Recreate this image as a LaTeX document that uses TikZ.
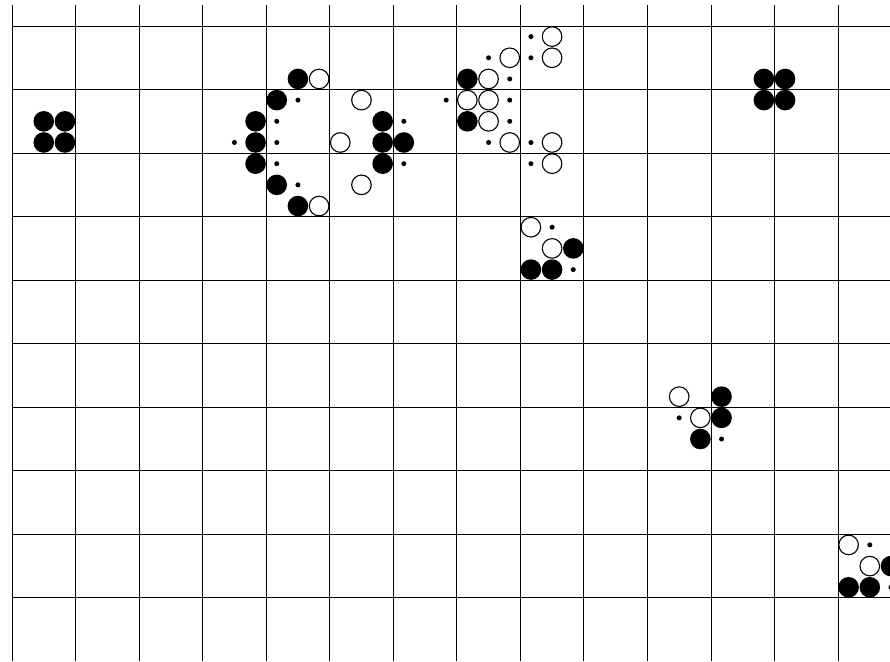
\documentclass[tikz,border=0pt]{standalone}
\begin{document}
\begin{tikzpicture}[x=1pt,y=-1pt,
  gridline/.style={line width=0.9pt, black},
  live/.style={circle, fill=black, inner sep=0pt, minimum size=20.6pt},
  born/.style={circle, draw=black, fill=white, line width=1.1pt, inner sep=0pt, minimum size=19.6pt},
  dying/.style={circle, fill=black, inner sep=0pt, minimum size=5pt}]
\useasboundingbox (0,0) rectangle (890,661);
\begin{scope}
\clip (12,5) rectangle (890,661);
\foreach \k in {0,...,14} \draw[gridline] ({12+3*\k*21.18},5) -- ({12+3*\k*21.18},661);
\foreach \k in {0,...,9} \draw[gridline] (12,{26+3*\k*21.18}) -- (890,{26+3*\k*21.18});
\begin{scope}[shift={(12,26)}, x=21.18pt, y=-21.18pt]
\foreach \c/\r [count=\i] in {1/4,2/4,1/5,2/5,13/2,12/3,11/4,11/5,11/6,12/7,13/8,17/4,17/5,18/5,17/6,21/2,21/4,35/2,36/2,35/3,36/3,26/10,24/11,25/11,33/17,33/18,32/19,41/25,39/26,40/26}
  \node[live] (L\i) at (\c+0.5,\r+0.5) {};
\foreach \c/\r [count=\i] in {14/2,14/8,16/3,15/5,16/7,22/2,23/1,25/0,25/1,21/3,22/3,22/4,23/5,25/5,25/6,24/9,25/10,31/17,32/18,39/24,40/25}
  \node[born] (B\i) at (\c+0.5,\r+0.5) {};
\foreach \c/\r [count=\i] in {13/3,12/4,10/5,12/5,12/6,13/7,18/4,18/6,23/2,22/1,24/0,24/1,20/3,23/3,23/4,22/5,24/5,24/6,25/9,26/11,31/18,33/19,40/24,41/26}
  \node[dying] (D\i) at (\c+0.5,\r+0.5) {};
\end{scope}
\end{scope}
\end{tikzpicture}
\end{document}
